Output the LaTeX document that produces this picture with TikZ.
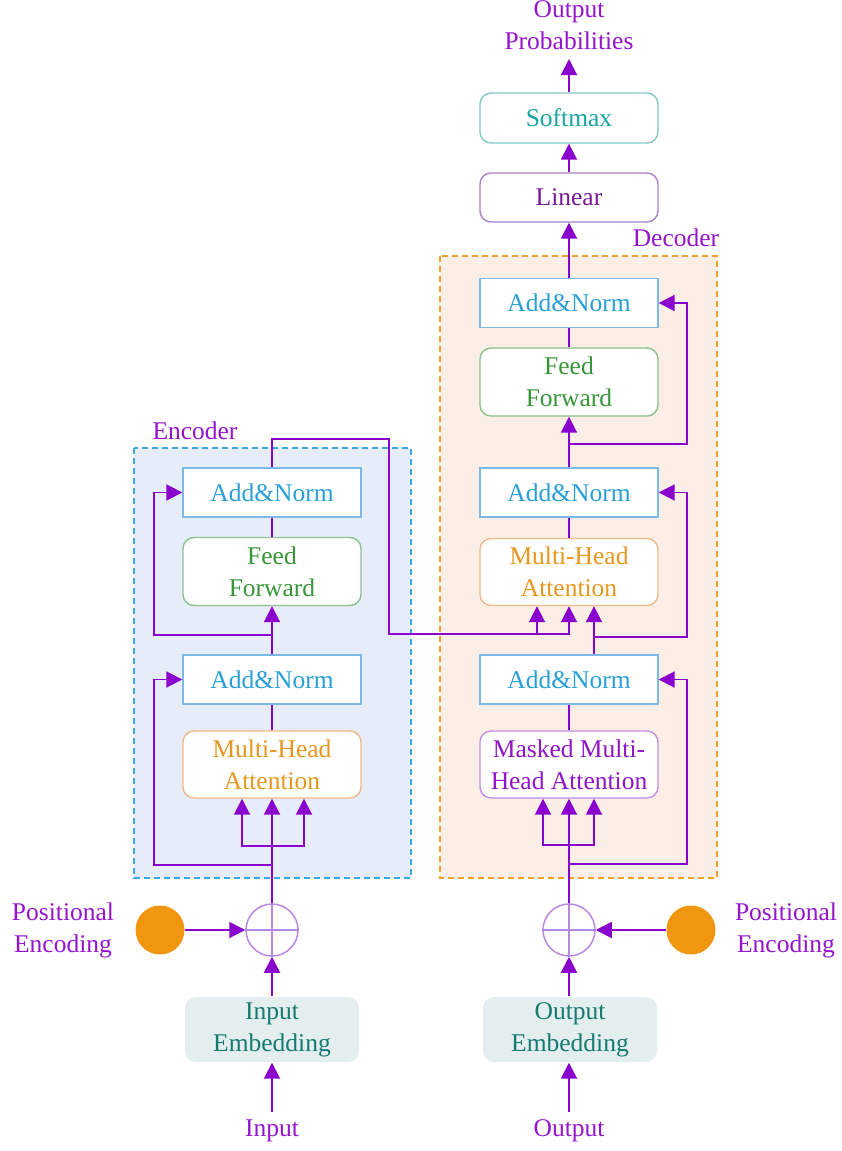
\documentclass[tikz,border=0pt]{standalone}
\usepackage{fontspec}
\setmainfont{Liberation Serif}
\usetikzlibrary{arrows.meta,calc}
\definecolor{pur}{RGB}{138,0,204}
\definecolor{lab}{RGB}{150,20,205}
\definecolor{encfill}{RGB}{230,237,248}
\definecolor{encdraw}{RGB}{55,170,225}
\definecolor{decfill}{RGB}{251,238,230}
\definecolor{decdraw}{RGB}{240,160,45}
\definecolor{anb}{RGB}{125,185,230}
\definecolor{ant}{RGB}{40,160,215}
\definecolor{ffb}{RGB}{140,192,140}
\definecolor{fft}{RGB}{55,150,55}
\definecolor{mhb}{RGB}{240,185,135}
\definecolor{mht}{RGB}{232,150,30}
\definecolor{mkb}{RGB}{195,140,225}
\definecolor{mkt}{RGB}{145,20,200}
\definecolor{linb}{RGB}{170,130,200}
\definecolor{lint}{RGB}{120,25,150}
\definecolor{smb}{RGB}{130,200,195}
\definecolor{smt}{RGB}{25,165,160}
\definecolor{embf}{RGB}{228,238,238}
\definecolor{embt}{RGB}{20,122,114}
\definecolor{oplc}{RGB}{185,135,228}
\definecolor{peo}{RGB}{240,150,15}
\newcommand\dfont{\fontsize{25.5}{32}\selectfont}
\tikzset{
  base/.style={font=\dfont, align=center, inner sep=0pt, minimum width=178pt, line width=1.4pt},
  anbox/.style={base, draw=anb, fill=white, text=ant, minimum height=49pt},
  ffbox/.style={base, draw=ffb, fill=white, text=fft, rounded corners=11pt, minimum height=68pt},
  mhbox/.style={base, draw=mhb, fill=white, text=mht, rounded corners=11pt, minimum height=67pt},
  maskbox/.style={base, draw=mkb, fill=white, text=mkt, rounded corners=11pt, minimum height=67pt},
  linbox/.style={base, draw=linb, fill=white, text=lint, rounded corners=11pt, minimum height=49pt},
  smbox/.style={base, draw=smb, fill=white, text=smt, rounded corners=11pt, minimum height=50pt},
  embbox/.style={base, fill=embf, text=embt, rounded corners=11pt, minimum width=174pt, minimum height=65pt},
  txt/.style={font=\dfont, align=center, text=lab, inner sep=0pt},
  oplus/.style={circle, draw=oplc, line width=1.5pt, fill=white, minimum size=52pt, inner sep=0pt},
  pe/.style={circle, fill=peo, minimum size=49pt, inner sep=0pt},
  ln/.style={draw=pur, line width=1.9pt},
  arr/.style={draw=pur, line width=1.9pt, -{Triangle[length=16pt,width=16pt]}},
}
\begin{document}
\begin{tikzpicture}[x=1pt,y=-1pt]
\useasboundingbox (0,0) rectangle (842,1151);
% encoder / decoder frames
\draw[encdraw, fill=encfill, line width=1.4pt, dash pattern=on 6pt off 4pt] (134,448) rectangle (411,878);
\draw[decdraw, fill=decfill, line width=1.4pt, dash pattern=on 6pt off 4pt] (440,256) rectangle (717,878);
\node[txt] (encl) at (195,431) {Encoder};
\node[txt] (decl) at (676,238) {Decoder};
% encoder nodes
\node[anbox] (anE2) at (272,492.5) {Add\&Norm};
\node[ffbox] (ffE) at (272,571.5) {Feed\\Forward};
\node[anbox] (anE1) at (272,679.5) {Add\&Norm};
\node[mhbox] (mhaE) at (272,764.5) {Multi-Head\\Attention};
% decoder nodes
\node[anbox] (anD3) at (569,303) {Add\&Norm};
\node[ffbox] (ffD) at (569,382) {Feed\\Forward};
\node[anbox] (anD2) at (569,492.5) {Add\&Norm};
\node[mhbox] (mhaD) at (569,572) {Multi-Head\\Attention};
\node[anbox] (anD1) at (569,679.5) {Add\&Norm};
\node[maskbox] (maskD) at (569,764.5) {Masked Multi-\\Head Attention};
\node[linbox] (lin) at (569,197.5) {Linear};
\node[smbox] (sm) at (569,118) {Softmax};
\node[txt] (outp) at (569,25) {Output\\Probabilities};
% bottom
\node[oplus] (opE) at (272,930) {};
\node[oplus] (opD) at (569,930) {};
\draw[oplc, line width=1.3pt] (opE.north) -- (opE.south) (opE.west) -- (opE.east);
\draw[oplc, line width=1.3pt] (opD.north) -- (opD.south) (opD.west) -- (opD.east);
\node[pe] (peE) at (160,930) {};
\node[pe] (peD) at (691,930) {};
\node[txt] (peEl) at (63,930) {Positional\\Encoding};
\node[txt] (peDl) at (786,930) {Positional\\Encoding};
\node[embbox] (embE) at (272,1029.5) {Input\\Embedding};
\node[embbox] (embD) at (570,1029.5) {Output\\Embedding};
\node[txt] (inl) at (272,1131) {Input};
\node[txt] (outl) at (569,1131) {Output};
\coordinate (inS) at (272,1112);
\coordinate (outS) at (569,1112);
\coordinate (probS) at (569,59);
% ---- connectors: encoder
\draw[arr] (inS) -- (embE.south);
\draw[arr] (embE.north) -- (opE.south);
\draw[arr] (peE.east) -- (opE.west);
\draw[arr] (opE.north) -- (mhaE.south);
\coordinate (jE1) at (272,846);
\draw[arr] (jE1) -| ($(mhaE.south)+(-30,0)$);
\draw[arr] (jE1) -| ($(mhaE.south)+(32,0)$);
\coordinate (rE1) at (272,865);
\draw[arr] (rE1) -- (154,865) |- (anE1.west);
\draw[ln] (mhaE.north) -- (anE1.south);
\draw[arr] (anE1.north) -- (ffE.south);
\coordinate (rE2) at (272,635);
\draw[arr] (rE2) -- (154,635) |- (anE2.west);
\draw[ln] (ffE.north) -- (anE2.south);
\draw[arr] (anE2.north) -- (272,439) -- (389,439) -- (389,634) -| (mhaD.south);
\coordinate (jX) at (537,634);
\draw[arr] (jX) -- (jX |- mhaD.south);
% ---- connectors: decoder
\draw[arr] (outS) -- (embD.south -| outS);
\draw[arr] (embD.north -| opD) -- (opD.south);
\draw[arr] (peD.west) -- (opD.east);
\draw[arr] (opD.north) -- (maskD.south);
\coordinate (jD1) at (569,845);
\draw[arr] (jD1) -| ($(maskD.south)+(-26,0)$);
\draw[arr] (jD1) -| ($(maskD.south)+(25,0)$);
\coordinate (rD1) at (569,864);
\draw[arr] (rD1) -- (687,864) |- (anD1.east);
\draw[ln] (maskD.north) -- (anD1.south);
\draw[arr] ($(anD1.north)+(25,0)$) -- ($(mhaD.south)+(25,0)$);
\coordinate (rD2) at (594,637);
\draw[arr] (rD2) -- (687,637) |- (anD2.east);
\draw[ln] (mhaD.north) -- (anD2.south);
\draw[arr] (anD2.north) -- (ffD.south);
\coordinate (rD3) at (569,444);
\draw[arr] (rD3) -- (687,444) |- (anD3.east);
\draw[ln] (ffD.north) -- (anD3.south);
\draw[arr] (anD3.north) -- (lin.south);
\draw[arr] (lin.north) -- (sm.south);
\draw[arr] (sm.north) -- (probS);
\end{tikzpicture}
\end{document}
